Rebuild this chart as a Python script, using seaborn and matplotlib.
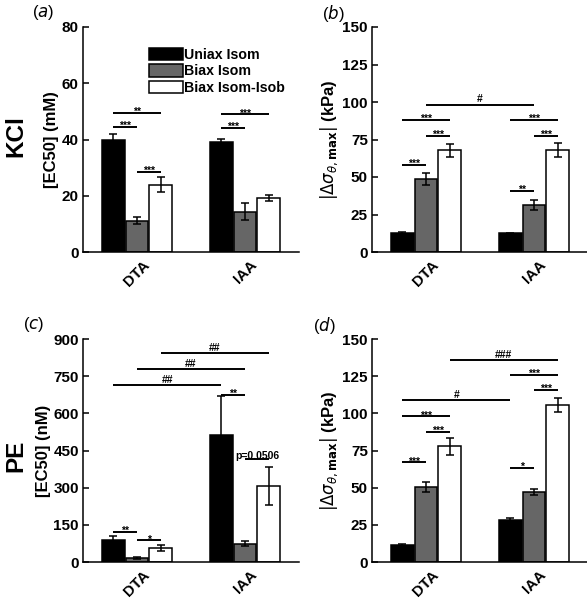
import pandas as pd
import numpy as np
import seaborn as sns
import matplotlib.pyplot as plt

sns.set_style('ticks')
plt.rcParams['font.family'] = ['Liberation Sans', 'DejaVu Sans']
plt.rcParams['mathtext.fontset'] = 'dejavusans'
for key in ['text.color', 'axes.labelcolor', 'xtick.color', 'ytick.color', 'axes.edgecolor']:
    plt.rcParams[key] = 'black'

groups = ['DTA', 'IAA']
conditions = ['Uniax Isom', 'Biax Isom', 'Biax Isom-Isob']
colors = ['black', '#666666', 'white']

# values per group: [Uniax Isom, Biax Isom, Biax Isom-Isob]
kcl_ec50 = [[39.8, 11.1, 23.9], [39.2, 14.4, 19.1]]
kcl_ec50_err = [[2.0, 1.2, 2.6], [1.0, 2.9, 1.0]]
kcl_stress = [[12.7, 48.5, 67.8], [12.5, 31.2, 68.0]]
kcl_stress_err = [[0.6, 4.0, 4.2], [0.3, 3.2, 4.4]]
pe_ec50 = [[87, 16, 56], [514, 74, 307]]
pe_ec50_err = [[16, 5, 13], [155, 9, 78]]
pe_stress = [[11.2, 50.2, 77.8], [28.5, 47.2, 105.6]]
pe_stress_err = [[1.0, 3.4, 5.7], [1.3, 2.2, 4.7]]

# significance brackets: (group, bar, group, bar, height, label)
kcl_ec50_sig = [(0, 0, 0, 2, 49.6, '**'), (0, 0, 0, 1, 44.6, '***'), (0, 1, 0, 2, 28.6, '***'),
                (1, 0, 1, 2, 48.9, '***'), (1, 0, 1, 1, 44.2, '***')]
kcl_stress_sig = [(0, 1, 1, 1, 98.2, '#'), (0, 0, 0, 2, 88.0, '***'), (0, 1, 0, 2, 77.5, '***'),
                  (0, 0, 0, 1, 58.0, '***'), (1, 0, 1, 2, 88.0, '***'), (1, 1, 1, 2, 77.5, '***'),
                  (1, 0, 1, 1, 40.6, '**')]
pe_ec50_sig = [(0, 2, 1, 2, 844, '##'), (0, 1, 1, 1, 777, '##'), (0, 0, 1, 0, 713, '##'),
               (1, 0, 1, 1, 673, '**'), (1, 1, 1, 2, 416, 'p=0.0506'),
               (0, 0, 0, 1, 121, '**'), (0, 1, 0, 2, 87.5, '*')]
pe_stress_sig = [(0, 2, 1, 2, 135.6, '###'), (1, 0, 1, 2, 125.8, '***'), (1, 1, 1, 2, 115.7, '***'),
                 (0, 0, 1, 0, 108.7, '#'), (0, 0, 0, 2, 98.0, '***'), (0, 1, 0, 2, 87.4, '***'),
                 (0, 0, 0, 1, 67.0, '***'), (1, 0, 1, 1, 63.2, '*')]

stress_label = r'$|\Delta\sigma_{\theta,\mathbf{max}}|$ (kPa)'


def panel(ax, vals, errs, sigs, ylim, step, ylabel):
    df = pd.DataFrame([(g, c, vals[i][j]) for i, g in enumerate(groups)
                       for j, c in enumerate(conditions)], columns=['group', 'cond', 'value'])
    sns.barplot(data=df, x='group', y='value', hue='cond', order=groups, hue_order=conditions,
                palette=colors, saturation=1, width=0.66, gap=0.04, edgecolor='black',
                linewidth=1.1, errorbar=None, legend=False, ax=ax)
    bars = list(ax.containers)
    for j, cont in enumerate(bars):
        xs = [b.get_x() + b.get_width() / 2 for b in cont]
        ax.errorbar(xs, [vals[i][j] for i in range(2)], yerr=[errs[i][j] for i in range(2)],
                    fmt='none', ecolor='black', elinewidth=1.1, capsize=3, capthick=1.1, zorder=5)

    def cx(g, b):
        r = bars[b][g]
        return r.get_x() + r.get_width() / 2

    for g1, b1, g2, b2, y, lab in sigs:
        x1, x2 = cx(g1, b1), cx(g2, b2)
        ax.plot([x1, x2], [y, y], color='black', lw=1.4, solid_capstyle='butt')
        off = -1.5 if lab.startswith('*') else (0.3 if lab.startswith('p') else 1.6)
        ax.annotate(lab, ((x1 + x2) / 2, y), xytext=(0, off), textcoords='offset points',
                    ha='center', va='baseline', fontsize=7.5, fontweight='bold')

    ax.set_xlim(-0.5, 1.5)
    ax.set_ylim(0, ylim)
    ax.set_yticks(np.arange(0, ylim + 1, step))
    ax.set_xlabel('')
    ax.set_ylabel(ylabel, fontsize=12, fontweight='bold', labelpad=2)
    ax.tick_params(direction='in', length=4, width=1.1, labelsize=11, pad=3)
    ax.tick_params(axis='x', length=0, pad=4)
    for lab in ax.get_yticklabels():
        lab.set_fontweight('bold')
    ax.set_xticks(range(2))
    ax.set_xticklabels(groups, rotation=45, ha='center', fontweight='bold')
    sns.despine(ax=ax)
    for s in ['left', 'bottom']:
        ax.spines[s].set_linewidth(1.1)
    return bars


fig = plt.figure(figsize=(5.87, 6.0), dpi=100)
ax_a = fig.add_axes([0.1414, 0.58, 0.368, 0.375])
ax_b = fig.add_axes([0.6337, 0.58, 0.368, 0.375])
ax_c = fig.add_axes([0.1414, 0.0633, 0.368, 0.3717])
ax_d = fig.add_axes([0.6337, 0.0633, 0.368, 0.3717])

bars_a = panel(ax_a, kcl_ec50, kcl_ec50_err, kcl_ec50_sig, 80, 20, '[EC50] (mM)')
panel(ax_b, kcl_stress, kcl_stress_err, kcl_stress_sig, 150, 25, stress_label)
panel(ax_c, pe_ec50, pe_ec50_err, pe_ec50_sig, 900, 150, '[EC50] (nM)')
panel(ax_d, pe_stress, pe_stress_err, pe_stress_sig, 150, 25, stress_label)

ax_a.legend(bars_a, conditions, loc='upper left', bbox_to_anchor=(0.272, 0.94),
            frameon=False, borderpad=0, handlelength=2.4, handleheight=0.95,
            handletextpad=0.1, labelspacing=0.2, prop={'weight': 'bold', 'size': 10.2})

fig.text(0.027, 1 - 136 / 600, 'KCl', rotation=90, ha='center', va='center',
         fontsize=17.5, fontweight='bold')
fig.text(0.027, 1 - 456 / 600, 'PE', rotation=90, ha='center', va='center',
         fontsize=17.5, fontweight='bold')

for x, y, letter in [(32, 3, 'a'), (322, 3, 'b'), (23, 315, 'c'), (313, 315, 'd')]:
    fig.text(x / 587, 1 - y / 600, '(' + r'$\mathit{' + letter + '}$' + ')',
             ha='left', va='top', fontsize=12)

fig.savefig('out.png', dpi=100)
